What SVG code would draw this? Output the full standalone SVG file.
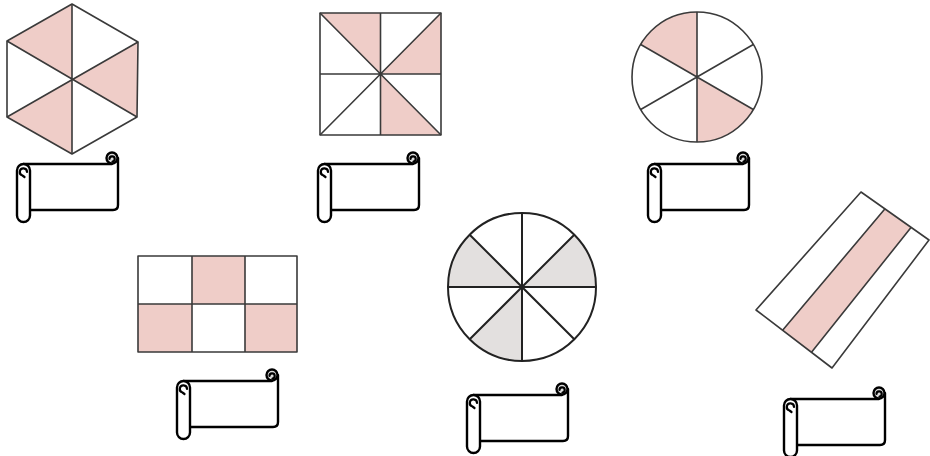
<svg xmlns="http://www.w3.org/2000/svg" xmlns:xlink="http://www.w3.org/1999/xlink" width="930" height="456" viewBox="0 0 930 456">
<style>
.sh{fill:none;stroke:#3a3a3a;stroke-width:1.6;stroke-linejoin:round}
.pk{fill:#efcdc8;stroke:none}
.gy{fill:#e3e0df;stroke:none}
.sc{fill:#fff;stroke:#000;stroke-width:2.4;stroke-linejoin:round;stroke-linecap:round}
.scn{fill:none;stroke:#000;stroke-width:2.2;stroke-linecap:round}
</style>
<defs>
<g id="scroll">
<path class="sc" d="M6.5,0 L95,0 L101,-6 L101,41 Q101,46 96,46 L13,46"/>
<circle class="sc" cx="95" cy="-6" r="5.5" style="fill:#ddd"/>
<path class="scn" d="M92.5,-5 A2.6,2.6 0 1 1 95.5,-2.5"/>
<rect class="sc" x="0" y="0" width="13" height="58" rx="6.5"/>
<path class="scn" d="M10,8 A3.6,3.6 0 1 0 5.5,11.5 L7.5,13"/>
</g>
</defs>
<rect width="930" height="456" fill="#fff"/>

<g id="hexagon">
<polygon class="pk" points="72,4 7,41 72,79"/>
<polygon class="pk" points="138,42 137,117 72,79"/>
<polygon class="pk" points="7,117 72,154 72,79"/>
<polygon class="sh" points="72,4 138,42 137,117 72,154 7,117 7,41"/>
<path class="sh" d="M72,4 L72,154 M7,41 L137,117 M138,42 L7,117"/>
</g>

<g id="square">
<polygon class="pk" points="320,13 380.5,13 380.5,74"/>
<polygon class="pk" points="441,13 441,74 380.5,74"/>
<polygon class="pk" points="380.5,74 380.5,135 441,135"/>
<rect class="sh" x="320" y="13" width="121" height="122"/>
<path class="sh" d="M320,13 L441,135 M441,13 L320,135 M380.5,13 L380.5,135 M320,74 L441,74"/>
</g>

<g id="circle6">
<path class="pk" d="M697,77 L697,12 A65,65 0 0 0 640.7,44.5 Z"/>
<path class="pk" d="M697,77 L697,142 A65,65 0 0 0 753.3,109.5 Z"/>
<circle class="sh" cx="697" cy="77" r="65"/>
<path class="sh" d="M697,12 L697,142 M640.7,44.5 L753.3,109.5 M753.3,44.5 L640.7,109.5"/>
</g>

<g id="grid">
<rect class="pk" x="192" y="256" width="53" height="48"/>
<rect class="pk" x="138" y="304" width="54" height="48"/>
<rect class="pk" x="245" y="304" width="52" height="48"/>
<rect class="sh" x="138" y="256" width="159" height="96"/>
<path class="sh" d="M138,304 L297,304 M192,256 L192,352 M245,256 L245,352"/>
</g>

<g id="circle8">
<path class="gy" d="M522,287 L448,287 A74,74 0 0 1 469.7,234.7 Z"/>
<path class="gy" d="M522,287 L596,287 A74,74 0 0 0 574.3,234.7 Z"/>
<path class="gy" d="M522,287 L522,361 A74,74 0 0 1 469.7,339.3 Z"/>
<circle class="sh" cx="522" cy="287" r="74" style="stroke:#222;stroke-width:2"/>
<path class="sh" style="stroke:#222;stroke-width:2" d="M522,213 L522,361 M448,287 L596,287 M469.7,234.7 L574.3,339.3 M574.3,234.7 L469.7,339.3"/>
</g>

<g id="stripe">
<polygon class="pk" points="884.8,209 911,227.5 811.5,352.3 782.6,330.3"/>
<polygon class="sh" points="861,192 929,240 832,368 756,310"/>
<path class="sh" d="M884.8,209 L782.6,330.3 M911,227.5 L811.5,352.3"/>
</g>

<g id="scroll1"><use xlink:href="#scroll" href="#scroll" x="17" y="164"/></g>
<g id="scroll2"><use xlink:href="#scroll" href="#scroll" x="318" y="164"/></g>
<g id="scroll3"><use xlink:href="#scroll" href="#scroll" x="648" y="164"/></g>
<g id="scroll4"><use xlink:href="#scroll" href="#scroll" x="177" y="381"/></g>
<g id="scroll5"><use xlink:href="#scroll" href="#scroll" x="467" y="395"/></g>
<g id="scroll6"><use xlink:href="#scroll" href="#scroll" x="784" y="399"/></g>
</svg>
